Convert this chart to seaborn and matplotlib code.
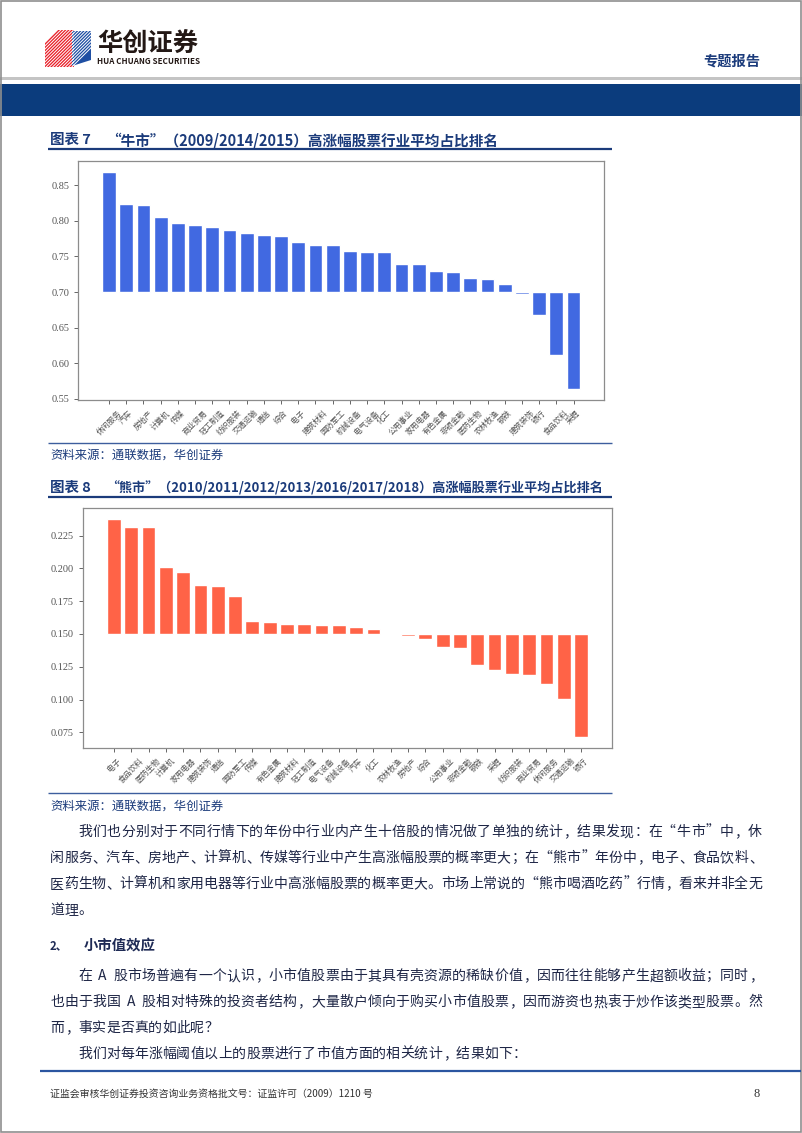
import numpy as np
import pandas as pd
import matplotlib
matplotlib.use("Agg")
import matplotlib.pyplot as plt
import seaborn as sns
from matplotlib.patches import Polygon, Rectangle

# ---------------- data ----------------
bull_industries = ["休闲服务", "汽车", "房地产", "计算机", "传媒", "商业贸易", "轻工制造",
                   "纺织服装", "交通运输", "通信", "综合", "电子", "建筑材料", "国防军工",
                   "机械设备", "电气设备", "化工", "公用事业", "家用电器", "有色金属",
                   "非银金融", "医药生物", "农林牧渔", "钢铁", "建筑装饰", "银行",
                   "食品饮料", "采掘"]
bull_values = [0.869, 0.824, 0.823, 0.805, 0.797, 0.794, 0.792, 0.787, 0.783, 0.780,
               0.779, 0.770, 0.766, 0.766, 0.758, 0.757, 0.757, 0.740, 0.740, 0.729,
               0.728, 0.720, 0.718, 0.711, 0.697, 0.667, 0.612, 0.563]
bull_base = 0.70

bear_industries = ["电子", "食品饮料", "医药生物", "计算机", "家用电器", "建筑装饰", "通信",
                   "国防军工", "传媒", "有色金属", "建筑材料", "轻工制造", "电气设备",
                   "机械设备", "汽车", "化工", "农林牧渔", "房地产", "综合", "公用事业",
                   "非银金融", "钢铁", "采掘", "纺织服装", "商业贸易", "休闲服务",
                   "交通运输", "银行"]
bear_values = [0.2377, 0.2318, 0.2318, 0.2009, 0.1975, 0.1871, 0.1864, 0.1788, 0.1602,
               0.1592, 0.1579, 0.1574, 0.1571, 0.1565, 0.1556, 0.1541, 0.1500, 0.1482,
               0.1465, 0.1403, 0.1393, 0.1264, 0.1228, 0.1195, 0.1190, 0.1119, 0.1004,
               0.0714]
bear_base = 0.15

title1_head = "图表 7"
title1_body = "“牛市”（2009/2014/2015）高涨幅股票行业平均占比排名"
title2_head = "图表 8"
title2_body = "“熊市”（2010/2011/2012/2013/2016/2017/2018）高涨幅股票行业平均占比排名"
source_text = "资料来源：通联数据，华创证券"

para1 = ["我们也分别对于不同行情下的年份中行业内产生十倍股的情况做了单独的统计，结果发现：在“牛市”中，休",
         "闲服务、汽车、房地产、计算机、传媒等行业中产生高涨幅股票的概率更大；在“熊市”年份中，电子、食品饮料、",
         "医药生物、计算机和家用电器等行业中高涨幅股票的概率更大。市场上常说的“熊市喝酒吃药”行情，看来并非全无",
         "道理。"]
heading2 = ("2、", "小市值效应")
para2 = ["在 A 股市场普遍有一个认识，小市值股票由于其具有壳资源的稀缺价值，因而往往能够产生超额收益；同时，",
         "也由于我国 A 股相对特殊的投资者结构，大量散户倾向于购买小市值股票，因而游资也热衷于炒作该类型股票。然",
         "而，事实是否真的如此呢？"]
para3 = ["我们对每年涨幅阈值以上的股票进行了市值方面的相关统计，结果如下："]
footer_text = "证监会审核华创证券投资咨询业务资格批文号：证监许可（2009）1210 号"
page_no = "8"

# ---------------- style ----------------
sns.set_style("ticks")
plt.rcParams["font.family"] = ["Noto Sans CJK SC", "DejaVu Sans"]

W, H = 802, 1133
fig = plt.figure(figsize=(W / 100, H / 100), dpi=100)
fig.patch.set_facecolor("white")

bg = fig.add_axes([0, 0, 1, 1], zorder=0)
bg.set_xlim(0, W)
bg.set_ylim(H, 0)
bg.axis("off")

renderer = fig.canvas.get_renderer()
NAVY = "#1B3B7B"
TXT = "#1E2646"


def fit_text(x0, x1, yc, s, size, **kw):
    t = bg.text(x0, yc, s, fontsize=size, ha="left", va="center", **kw)
    w = t.get_window_extent(renderer).width
    t.set_fontsize(size * (x1 - x0) / w)
    return t


PUNCT_L = set("，、。：；）”’！？")
PUNCT_R = set("（“‘")


def body_line(x0, x1, yc, s, color=TXT, size=10.0, unit=None):
    weights = [0.5 if ord(c) < 128 else 1.0 for c in s]
    tot = sum(weights)
    u = unit if unit else (x1 - x0) / tot
    base = yc + 0.37 * size * 100 / 72
    pos = x0
    for c, w in zip(s, weights):
        cw = u * w
        if c != " ":
            if c in PUNCT_L:
                bg.text(pos + 0.06 * cw, base, c, ha="left", va="baseline",
                        fontsize=size, color=color)
            elif c in PUNCT_R:
                bg.text(pos + 0.94 * cw, base, c, ha="right", va="baseline",
                        fontsize=size, color=color)
            else:
                bg.text(pos + cw / 2, base, c, ha="center", va="baseline",
                        fontsize=size, color=color)
        pos += cw


def hline(x0, x1, y, color, lw):
    bg.plot([x0, x1], [y, y], color=color, lw=lw, solid_capstyle="butt")


# ---------------- header ----------------
red = Polygon([(45, 43), (58, 30), (74, 30), (74, 67), (45, 67)], closed=True,
              facecolor="#E8202A", edgecolor="none")
blue = Polygon([(72, 31), (91, 31), (91, 60), (72, 66)], closed=True,
               facecolor="#1F4FA3", edgecolor="none")
bg.add_patch(red)
bg.add_patch(blue)
for k in range(-2, 20):
    x = 50 + k * 3.2
    for patch in (red, blue):
        ln, = bg.plot([x, x - 40], [28, 68], color="white", lw=0.7)
        ln.set_clip_path(patch)

fit_text(97, 198, 44, "华创证券", 19, color="#231815", weight="bold")
fit_text(97, 200, 61, "HUA CHUANG SECURITIES", 5.5, color="#231815", weight="bold")
fit_text(703, 760, 62, "专题报告", 9, color=NAVY, weight="bold")

bg.add_patch(Rectangle((0, 76.5), W, 3.5, facecolor="#C4C4C4", edgecolor="none"))
bg.add_patch(Rectangle((0, 84), W, 31.5, facecolor="#0B3C7D", edgecolor="none"))

# ---------------- chart titles / sources ----------------
fit_text(50, 91, 140, title1_head, 9.5, color=NAVY, weight="bold")
fit_text(106, 500, 140, title1_body, 9.5, color=NAVY, weight="bold")
hline(48, 612, 149, NAVY, 1.6)
hline(48, 612, 443, "#3D5E9E", 1.0)
fit_text(50, 222, 455, source_text, 8.5, color=NAVY)

fit_text(50, 91, 488, title2_head, 9.5, color=NAVY, weight="bold")
fit_text(106, 603, 488, title2_body, 9.5, color=NAVY, weight="bold")
hline(48, 612, 497, NAVY, 1.6)
hline(48, 612, 793, "#3D5E9E", 1.0)
fit_text(50, 222, 806, source_text, 8.5, color=NAVY)


# ---------------- charts ----------------
def draw_chart(l, t, r, b, cats, vals, base, color):
    ax = fig.add_axes([l / W, 1 - b / H, (r - l) / W, (b - t) / H], zorder=2)
    df = pd.DataFrame({"行业": cats, "高度": np.array(vals) - base})
    sns.barplot(data=df, x="行业", y="高度", ax=ax, color=color, saturation=1,
                width=0.8, errorbar=None, bottom=base)
    n = len(cats)
    span = (n - 1) + 0.8
    ax.set_xlim(-0.4 - 0.05 * span, n - 1 + 0.4 + 0.05 * span)
    ax.set_xlabel("")
    ax.set_ylabel("")
    for s in ax.spines.values():
        s.set_color("#8C8C8C")
        s.set_linewidth(0.9)
    ax.tick_params(axis="both", colors="#666666", length=3, width=0.7,
                   labelcolor="#555555")
    ax.tick_params(axis="x", rotation=45, labelsize=5.6)
    ax.tick_params(axis="y", labelsize=7.4, labelfontfamily="Liberation Serif")
    ax.set_facecolor("white")
    return ax


draw_chart(78.3, 161, 604.3, 400.3, bull_industries, bull_values, bull_base, "#4169E1")
draw_chart(83, 508, 612, 748, bear_industries, bear_values, bear_base, "#FF6347")

# ---------------- body text ----------------
U = 14.0
rows1 = [831, 857, 883, 909]
for i, (s, y) in enumerate(zip(para1, rows1)):
    x0 = 50 + (2 * U if i == 0 else 0)
    if i == len(para1) - 1:
        body_line(x0, None, y, s, unit=U)
    else:
        body_line(x0, 762, y, s)

fit_text(50, 68, 946, heading2[0], 10.5, color="#1E2A55", weight="bold")
fit_text(84, 156, 946, heading2[1], 10.5, color="#1E2A55", weight="bold")

rows2 = [975, 1001, 1027]
for i, (s, y) in enumerate(zip(para2, rows2)):
    x0 = 50 + (2 * U if i == 0 else 0)
    if i == len(para2) - 1:
        body_line(x0, None, y, s, unit=U)
    else:
        body_line(x0, 762, y, s)
body_line(50 + 2 * U, None, 1053, para3[0], unit=U)

# ---------------- footer ----------------
hline(40, 801, 1071, "#2B55A0", 1.6)
fit_text(50, 373, 1094, footer_text, 7.5, color="#333333")
bg.text(760, 1094, page_no, fontsize=9, ha="right", va="center", color="#333333",
        family="Liberation Serif")

bg.add_patch(Rectangle((0.5, 0.5), W - 1.5, H - 1.5, facecolor="none",
                       edgecolor="#8F8F8F", lw=1.2))

fig.savefig("out.png", dpi=100, facecolor="white")
